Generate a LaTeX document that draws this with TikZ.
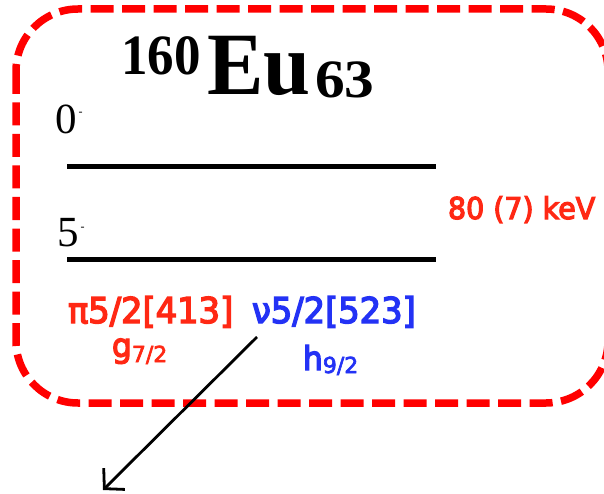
\documentclass[tikz,border=0pt]{standalone}
\usepackage{fontspec}
\usepackage{graphicx}
\usetikzlibrary{arrows.meta}
\setmainfont{Liberation Serif}
\newfontfamily\lblfont[FakeStretch=0.95,FakeBold=4]{DejaVu Sans}
\newfontfamily\subfont[FakeBold=3]{DejaVu Sans}
\definecolor{statered}{RGB}{255,40,20}
\definecolor{stateblue}{RGB}{35,50,245}
\begin{document}
\begin{tikzpicture}[x=1pt,y=-1pt,
  every node/.style={inner sep=0pt,outer sep=0pt},
  frame/.style={draw=red,line width=7.5pt,dash pattern=on 23pt off 8.5pt,rounded corners=62pt},
  levelline/.style={line width=5pt,black},
  spinlbl/.style={anchor=base west,font=\fontsize{43}{43}\selectfont},
  orbital/.style={anchor=base west,font=\lblfont\fontsize{35.5}{36}\selectfont},
  shell/.style={anchor=base west,font=\lblfont\fontsize{33}{33}\selectfont},
  decay/.style={line width=2.8pt,-{Straight Barb[length=14pt,width=30pt]}}]
\useasboundingbox (0,0) rectangle (604,494);

% dashed frame around the level scheme
\draw[frame] (16,9) rectangle (608,403);

% nucleus symbol
\node[anchor=base west] (mass) at (121,75) {\fontsize{57}{57}\selectfont\bfseries\scalebox{0.93}[1]{160}};
\node[anchor=base west] (elem) at (207,95) {\fontsize{89}{89}\selectfont\bfseries\scalebox{0.95}[1]{Eu}};
\node[anchor=base west] (charge) at (315,98) {\fontsize{54}{54}\selectfont\bfseries\scalebox{1.1}[1]{63}};

% spin labels and levels
\node[spinlbl] (spinA) at (55,134) {0\hspace{2pt}\raisebox{18pt}{\fontsize{12}{12}\selectfont -}};
\draw[levelline] (67,167) -- (436,167);
\node[spinlbl] (spinB) at (57,246) {5\hspace{2pt}\raisebox{16pt}{\fontsize{12}{12}\selectfont -}};
\draw[levelline] (67,259) -- (436,259);

% energy difference
\node[anchor=base west,text=statered,font=\lblfont\fontsize{30}{30}\selectfont] (energy) at (448,219) {80 (7) keV};

% Nilsson configurations
\node[orbital,text=statered] (proton) at (68,323) {π5/2[413]};
\node[orbital,text=stateblue] (neutron) at (252,323) {ν5/2[523]};
\node[shell,text=statered] (gshell) at (112,357) {g\raisebox{-5pt}{\subfont\fontsize{22}{22}\selectfont 7/2}};
\node[shell,text=stateblue] (hshell) at (303,370) {h\raisebox{-3pt}{\subfont\fontsize{22}{22}\selectfont 9/2}};

% decay arrow
\coordinate (arrowtail) at (257,337);
\coordinate (arrowtip) at (103,490);
\draw[decay] (arrowtail) -- (arrowtip);
\end{tikzpicture}
\end{document}
